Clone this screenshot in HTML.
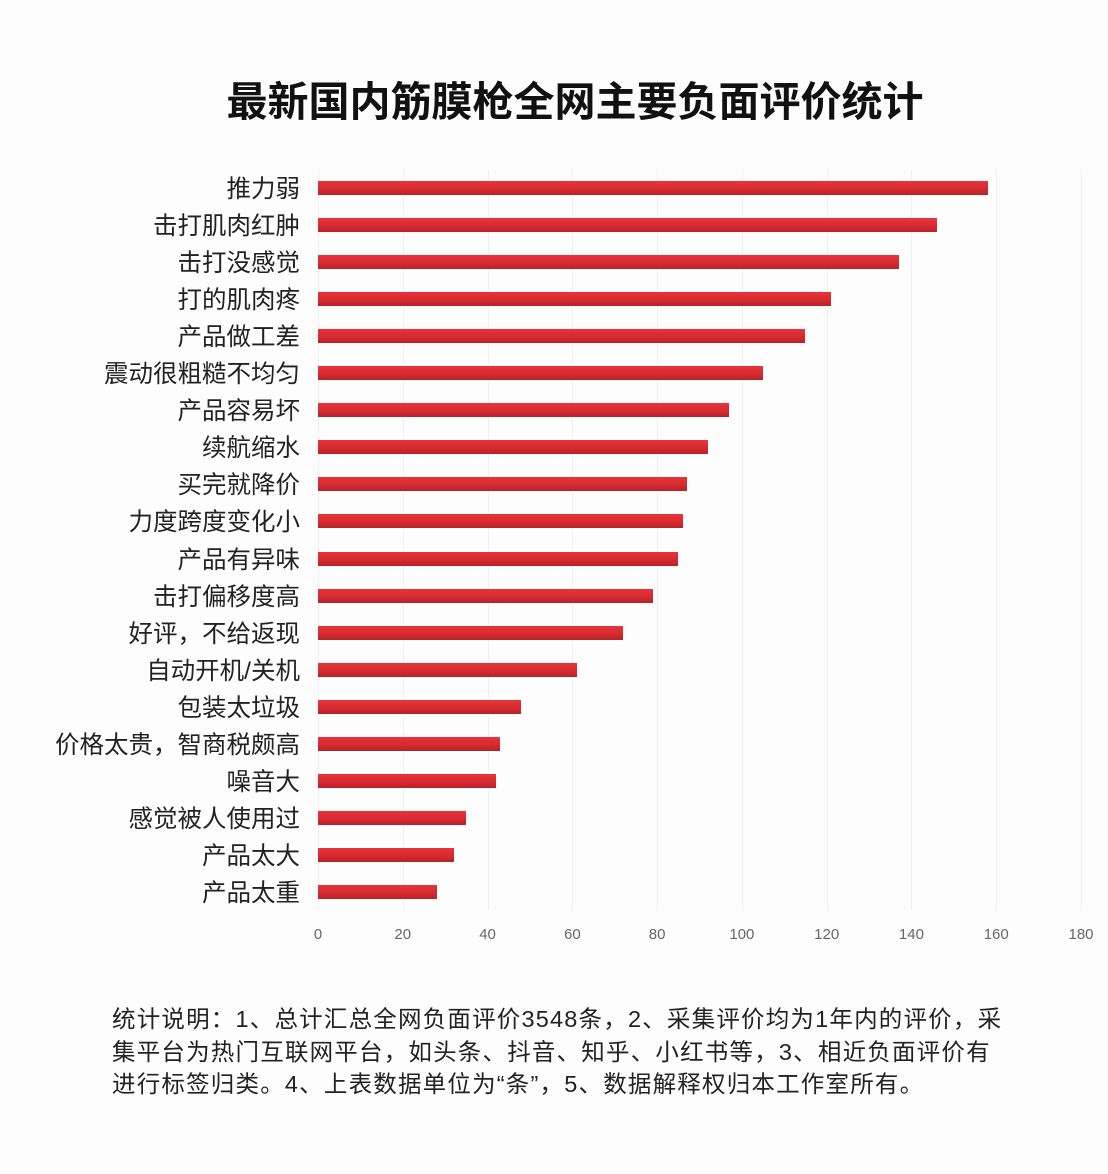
<!DOCTYPE html>
<html><head><meta charset="utf-8"><style>
body{margin:0;width:1108px;height:1174px;background:#fdfdfe;position:relative;overflow:hidden;font-family:"Liberation Sans","Noto Sans CJK SC",sans-serif;color:#222}
.t{position:absolute;left:0;width:1150px;top:68px;text-align:center;font-size:41px;font-weight:bold;color:#111}
.l{position:absolute;right:808px;font-size:24.5px;line-height:26px;white-space:nowrap;color:#222}
.b{position:absolute;left:318px;height:14px;background:linear-gradient(#e8343a,#d42a30 60%,#b82228);}
.g{position:absolute;top:170px;height:740px;width:1px;background:#f0f0f2}
.x{position:absolute;top:926px;font-size:15px;color:#666;width:40px;margin-left:-20px;text-align:center}
.n{position:absolute;left:112px;top:1003px;font-size:23.5px;letter-spacing:1.2px;line-height:32.5px;color:#222;white-space:nowrap}
</style></head><body>
<div class="t">最新国内筋膜枪全网主要负面评价统计</div>
<div id="c"></div>
<div class="n">统计说明：1、总计汇总全网负面评价3548条，2、采集评价均为1年内的评价，采<br>集平台为热门互联网平台，如头条、抖音、知乎、小红书等，3、相近负面评价有<br>进行标签归类。4、上表数据单位为“条”，5、数据解释权归本工作室所有。</div>
<script>
var d=[["推力弱",158],["击打肌肉红肿",146],["击打没感觉",137],["打的肌肉疼",121],["产品做工差",115],["震动很粗糙不均匀",105],["产品容易坏",97],["续航缩水",92],["买完就降价",87],["力度跨度变化小",86],["产品有异味",85],["击打偏移度高",79],["好评，不给返现",72],["自动开机/关机",61],["包装太垃圾",48],["价格太贵，智商税颇高",43],["噪音大",42],["感觉被人使用过",35],["产品太大",32],["产品太重",28]];
var h="",s=763/180;
for(var i=0;i<=9;i++){var x=318+i*20*s;h+='<div class="g" style="left:'+x+'px"></div><div class="x" style="left:'+x+'px">'+(i*20)+'</div>';}
d.forEach(function(r,i){var y=188+i*37.05;h+='<div class="l" style="top:'+(y-11)+'px">'+r[0]+'</div><div class="b" style="top:'+(y-7)+'px;width:'+(r[1]*s)+'px"></div>';});
document.getElementById("c").innerHTML=h;
</script>
</body></html>
